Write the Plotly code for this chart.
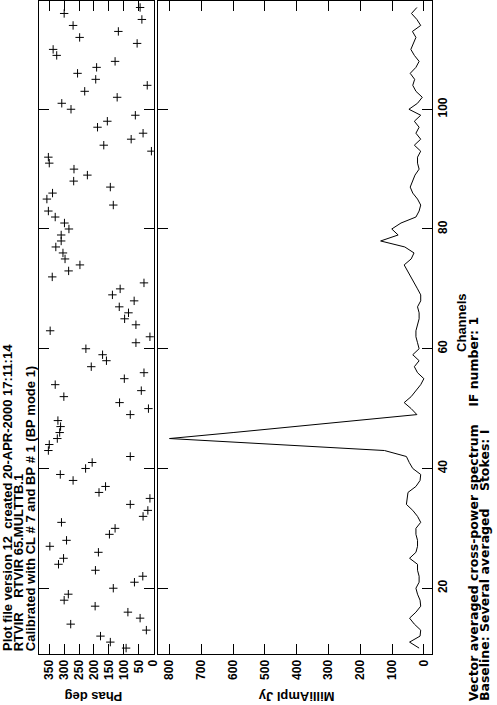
import plotly.graph_objects as go

channels = list(range(10, 118))

phase_deg = [92, 145, 178, 24, 278, 45, 86, 196, 300, 286,
             135, 64, 36, 195, 319, 302, 185, 348, 292, 148,
             129, 309, 35, 19, 78, 12, 183, 161, 270, 313,
             228, 206, 78, 353, 350, 323, 315, 312, 321, 78,
             17, 114, 301, 41, 330, 98, 32, 209, 158, 171,
             227, 59, 12, 347, 59, 97, 84, 115, 65, 138,
             112, 32, 340, 285, 247, 297, 304, 328, 310, 310,
             284, 299, 330, 353, 135, 358, 339, 145, 268, 222,
             267, 350, 353, 7, 167, 75, 35, 188, 155, 61,
             277, 308, 122, 231, 21, 194, 255, 191, 129, 325,
             337, 55, 248, 118, 270, 39, 300, 45]

amp_mjy = [15, 45, 12, 10, 30, 45, 25, 10, 12, 20,
           25, 15, 15, 20, 20, 45, 25, 20, 20, 25,
           25, 10, 20, 35, 55, 52, 50, 25, 12, 10,
           35, 46, 55, 124, 460, 800, 600, 410, 220, 22,
           40, 62, 40, 25, 10, 0, 20, 30, 15, 35,
           15, 20, 25, 25, 20, 15, 15, 20, 10, 10,
           20, 30, 40, 50, 62, 40, 31, 60, 136, 81,
           101, 72, 25, 15, 10, 20, 35, 43, 35, 28,
           15, 20, 20, 10, 30, 10, 25, 15, 30, 10,
           47, 20, 5, 25, 35, 29, 43, 25, 15, 30,
           41, 33, 25, 36, 10, 22, 39, 22]

phase_ticks = [0, 50, 100, 150, 200, 250, 300, 350]
amp_ticks = [0, 100, 200, 300, 400, 500, 600, 700, 800]
chan_ticks = [20, 40, 60, 80, 100]

header_lines = ["Plot file version 12  created 20-APR-2000 17:11:14",
                "RTVIR    RTVIR 65.MULTTB.1",
                "Calibrated with CL # 7 and BP # 1 (BP mode 1)"]
footer_lines = ["Vector averaged cross-power spectrum    IF number: 1",
                "Baseline: Several averaged    Stokes: I"]

W, H = 497, 705
def fx(px): return px / W
def fy(py): return 1 - py / H

FONT = dict(family="Liberation Sans", size=12, color="black", weight="bold")
TFONT = dict(family="Liberation Sans", size=13, color="black", weight="bold")
FFONT = dict(family="DejaVu Sans", size=12.5, color="black", weight="bold")

fig = go.Figure()
fig.add_trace(go.Scatter(x=phase_deg, y=channels, mode="markers",
                         marker=dict(symbol="cross-thin", size=6, color="black",
                                     line=dict(width=1, color="black")),
                         xaxis="x", yaxis="y", showlegend=False))
fig.add_trace(go.Scatter(x=amp_mjy, y=channels, mode="lines",
                         line=dict(color="black", width=1),
                         xaxis="x2", yaxis="y2", showlegend=False))

common = dict(showline=True, linecolor="black", linewidth=1, mirror="ticks",
              ticks="inside", ticklen=10, tickcolor="black", tickwidth=1,
              showgrid=False, zeroline=False, tickfont=FONT, tickangle=-90)

ydom = [fy(654), fy(0.5)]
fig.update_layout(
    width=W, height=H, margin=dict(l=0, r=0, t=0, b=0),
    paper_bgcolor="white", plot_bgcolor="white",
    xaxis=dict(domain=[fx(40), fx(156)], range=[383, -1], anchor="y",
               tickvals=phase_ticks, **common),
    yaxis=dict(domain=ydom, range=[9, 118], anchor="x",
               tickvals=chan_ticks, showticklabels=False, **common),
    xaxis2=dict(domain=[fx(160), fx(438)], range=[837, -25], anchor="y2",
                tickvals=amp_ticks, **common),
    yaxis2=dict(domain=ydom, range=[9, 118], anchor="x2", side="right",
                tickvals=chan_ticks, **common),
)

ann = []
for i, t in enumerate(header_lines):
    ann.append(dict(text=t.replace(" ", "\u00a0"), x=fx([7.5, 19, 31][i]), y=fy(653),
                    xref="paper", yref="paper", textangle=-90,
                    xanchor="center", yanchor="bottom", showarrow=False, font=TFONT))
ann.append(dict(text="Phas deg", x=fx(95), y=fy(697), xref="paper", yref="paper",
                textangle=180, xanchor="center", yanchor="middle", showarrow=False, font=TFONT))
ann.append(dict(text="MilliAmpl Jy", x=fx(300), y=fy(697), xref="paper", yref="paper",
                textangle=180, xanchor="center", yanchor="middle", showarrow=False, font=TFONT))
ann.append(dict(text="Channels", x=fx(468), y=fy(322), xref="paper", yref="paper",
                textangle=-90, xanchor="center", yanchor="middle", showarrow=False, font=TFONT))
for i, t in enumerate(footer_lines):
    ann.append(dict(text=t.replace(" ", "\u00a0"), x=fx([480, 491.5][i]), y=fy(703),
                    xref="paper", yref="paper", textangle=-90,
                    xanchor="center", yanchor="bottom", showarrow=False, font=FFONT))
fig.update_layout(annotations=ann)

fig.write_html("out.html", config={"displayModeBar": False},
               post_script="document.body.style.margin='0';document.body.style.overflow='hidden';")
